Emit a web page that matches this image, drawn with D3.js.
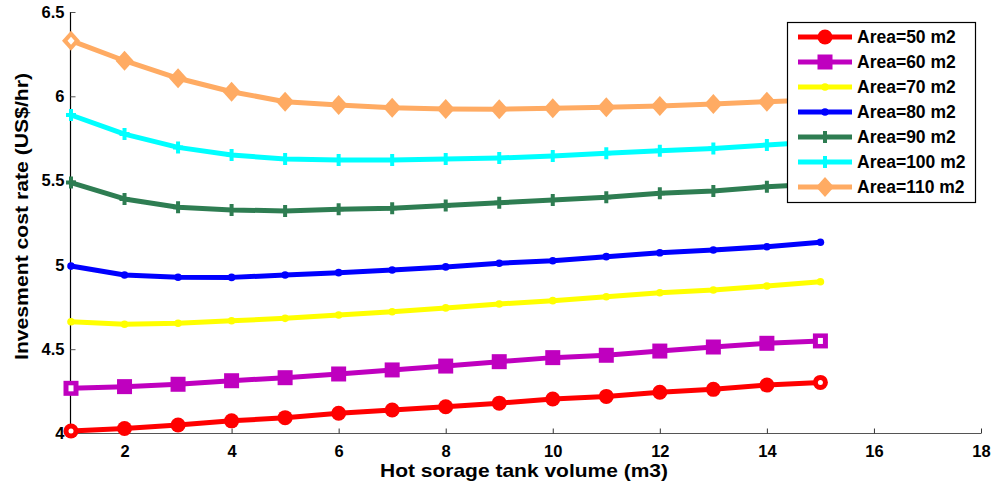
<!DOCTYPE html>
<html><head><meta charset="utf-8">
<script src="https://cdn.jsdelivr.net/npm/d3@7"></script>
<style>body{margin:0;background:#fff}svg{display:block}text{font-family:"Liberation Sans",Arial,sans-serif;font-weight:bold}</style>
</head><body><svg id="c" width="995" height="488"></svg>
<script>
const volumes = [1,2,3,4,5,6,7,8,9,10,11,12,13,14,15];
const area50  = [4.015,4.03,4.05,4.075,4.094,4.12,4.139,4.159,4.18,4.205,4.22,4.245,4.262,4.287,4.303];
const area60  = [4.268,4.278,4.292,4.313,4.331,4.353,4.377,4.400,4.426,4.450,4.464,4.489,4.513,4.535,4.549];
const area70  = [4.663,4.648,4.654,4.669,4.683,4.703,4.722,4.745,4.768,4.788,4.811,4.835,4.851,4.875,4.900];
const area80  = [4.993,4.940,4.927,4.926,4.940,4.954,4.970,4.988,5.010,5.025,5.049,5.072,5.088,5.108,5.134];
const area90  = [5.488,5.391,5.342,5.326,5.320,5.330,5.336,5.352,5.369,5.385,5.401,5.425,5.438,5.464,5.480];
const area100 = [5.889,5.776,5.697,5.652,5.628,5.622,5.622,5.628,5.634,5.646,5.662,5.677,5.691,5.711,5.730];
const area110 = [6.330,6.211,6.107,6.027,5.968,5.948,5.932,5.925,5.923,5.929,5.935,5.942,5.954,5.968,5.980];
const seriesNames = ["Area=50 m2","Area=60 m2","Area=70 m2","Area=80 m2","Area=90 m2","Area=100 m2","Area=110 m2"];
const xTicks = [2,4,6,8,10,12,14,16,18];
const yTicks = [4,4.5,5,5.5,6,6.5];

const colors = ["#ff0000","#bf00bf","#ffff00","#0000ff","#2e7d52","#00ffff","#ffab63"];
const markers = ["circle","square","dot","dot","plus","plus","diamond"];
const allSeries = [area50,area60,area70,area80,area90,area100,area110];

const svg = d3.select("#c");
const x = d3.scaleLinear().domain([1,18]).range([71,981]);
const y = d3.scaleLinear().domain([4,6.5]).range([433.5,12]);

// axes
const xAxis = svg.append("g").attr("transform","translate(0,433.5)")
  .call(d3.axisBottom(x).tickValues(xTicks).tickSize(-5).tickPadding(12).tickFormat(d3.format("d")));
xAxis.select(".domain").attr("stroke","#555").attr("stroke-width",1.2).attr("d","M71,0H981");
xAxis.selectAll(".tick line").attr("stroke","#333");
xAxis.selectAll(".tick text").attr("font-size",16.5).attr("fill","#000");

const yAxis = svg.append("g").attr("transform","translate(70.5,0)")
  .call(d3.axisLeft(y).tickValues(yTicks).tickSize(-5).tickPadding(6).tickFormat(d=>String(d)));
yAxis.select(".domain").attr("stroke","#000").attr("stroke-width",1.2).attr("d","M0,12V433.5");
yAxis.selectAll(".tick line").attr("stroke","#555");
yAxis.selectAll(".tick text").attr("font-size",16.5).attr("fill","#000");

// axis titles
svg.append("text").attr("x",524).attr("y",477).attr("text-anchor","middle").attr("font-size",18.5)
  .attr("textLength",288).attr("lengthAdjust","spacingAndGlyphs").text("Hot sorage tank volume (m3)");
svg.append("text").attr("transform","translate(28,216.5) rotate(-90)").attr("text-anchor","middle").attr("font-size",19)
  .attr("textLength",287).attr("lengthAdjust","spacingAndGlyphs").text("Invesment cost rate (US$/hr)");

function drawMarker(g, type, cx, cy, color, hollow){
  if(type==="circle"){
    g.append("circle").attr("cx",cx).attr("cy",cy).attr("r",7.5).attr("fill",color);
    if(hollow) g.append("circle").attr("cx",cx).attr("cy",cy).attr("r",2.5).attr("fill","#fff");
  } else if(type==="square"){
    g.append("rect").attr("x",cx-7.5).attr("y",cy-7.5).attr("width",15).attr("height",15).attr("fill",color);
    if(hollow) g.append("rect").attr("x",cx-2.5).attr("y",cy-3).attr("width",5).attr("height",6).attr("fill","#fff");
  } else if(type==="dot"){
    g.append("circle").attr("cx",cx).attr("cy",cy).attr("r",3.8).attr("fill",color);
  } else if(type==="plus"){
    g.append("path").attr("d",`M${cx-5},${cy}H${cx+5}M${cx},${cy-6}V${cy+6}`).attr("stroke",color).attr("stroke-width",4);
  } else if(type==="diamond"){
    g.append("path").attr("d",`M${cx},${cy-10}L${cx+9},${cy}L${cx},${cy+10}L${cx-9},${cy}Z`).attr("fill",color);
    if(hollow) g.append("path").attr("d",`M${cx},${cy-4}L${cx+3.5},${cy}L${cx},${cy+4}L${cx-3.5},${cy}Z`).attr("fill","#fff");
  }
}

const line = d3.line().x((d,i)=>x(volumes[i])).y(d=>y(d));
allSeries.forEach((s,k)=>{
  const g = svg.append("g");
  g.append("path").attr("d",line(s)).attr("fill","none").attr("stroke",colors[k]).attr("stroke-width",5).attr("stroke-linejoin","round");
  s.forEach((v,i)=>drawMarker(g, markers[k], x(volumes[i]), y(v), colors[k], (i===0||i===s.length-1)));
});

// legend
const lg = svg.append("g");
lg.append("rect").attr("x",787.5).attr("y",22.5).attr("width",188).attr("height",180).attr("fill","#fff").attr("stroke","#000").attr("stroke-width",1.2);
seriesNames.forEach((n,k)=>{
  const yy = 37 + k*25;
  lg.append("line").attr("x1",798).attr("x2",852).attr("y1",yy).attr("y2",yy).attr("stroke",colors[k]).attr("stroke-width",5);
  drawMarker(lg, markers[k], 825, yy, colors[k], false);
  lg.append("text").attr("x",857).attr("y",yy+6).attr("font-size",17.5).text(n);
});
</script></body></html>
